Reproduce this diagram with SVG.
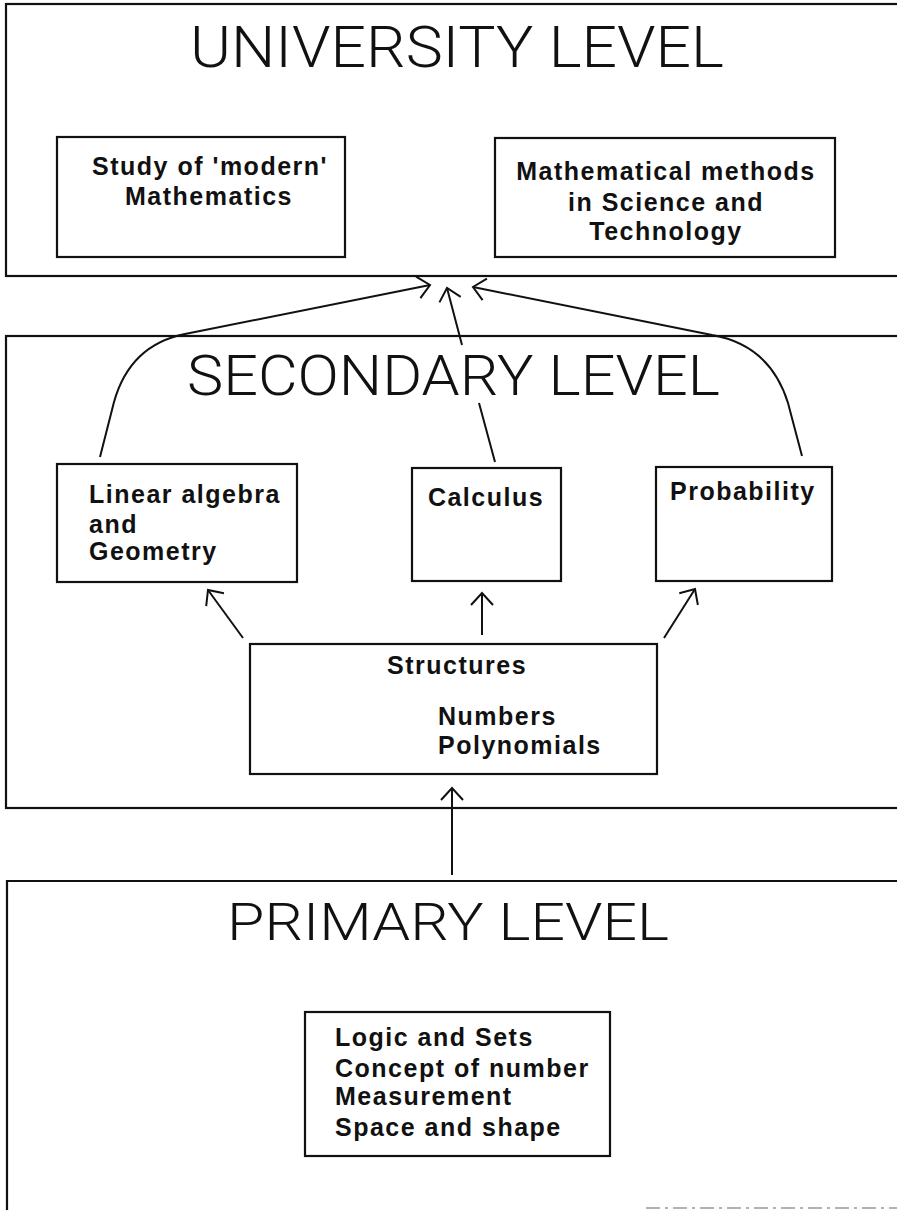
<svg xmlns="http://www.w3.org/2000/svg" width="897" height="1210" viewBox="0 0 897 1210">
<style>
.frame{fill:none;stroke:#111;stroke-width:2.2}
.box{fill:#fff;stroke:#111;stroke-width:2.2}
.title{font-family:Roboto,"Open Sans","Liberation Sans",sans-serif;font-weight:300;fill:#111;text-anchor:middle}
.lbl{font-family:"Liberation Sans",Arial,sans-serif;font-weight:bold;font-size:25px;letter-spacing:1.5px;fill:#111}
.mid{text-anchor:middle}
.conn{fill:none;stroke:#111;stroke-width:2}
</style>
<defs>
<marker id="arr" markerUnits="userSpaceOnUse" markerWidth="30" markerHeight="30" refX="0" refY="0" viewBox="-15 -15 30 30" orient="auto" overflow="visible">
<path d="M-12,-11 L0,0 L-12,11" fill="none" stroke="#111" stroke-width="2"/>
</marker>
</defs>
<rect width="897" height="1210" fill="#fff"/>

<g id="university-level">
<rect class="frame" x="6" y="4" width="900" height="272"/>
<text class="title" x="457" y="67" font-size="58" textLength="534" lengthAdjust="spacingAndGlyphs">UNIVERSITY LEVEL</text>
</g>
<g id="node-modern-mathematics">
<rect class="box" x="57" y="137" width="288" height="120"/>
<text class="lbl mid" x="210" y="175">Study of 'modern'</text>
<text class="lbl mid" x="209" y="205">Mathematics</text>
</g>
<g id="node-math-methods">
<rect class="box" x="495" y="138" width="340" height="119"/>
<text class="lbl mid" x="666" y="180">Mathematical methods</text>
<text class="lbl mid" x="666" y="211">in Science and</text>
<text class="lbl mid" x="666" y="240">Technology</text>
</g>

<g id="secondary-level">
<rect class="frame" x="6" y="336" width="900" height="472"/>
<text class="title" x="453.5" y="395" font-size="56" textLength="533" lengthAdjust="spacingAndGlyphs">SECONDARY LEVEL</text>
</g>
<g id="node-linear-algebra">
<rect class="box" x="57" y="464" width="240" height="118"/>
<text class="lbl" x="89" y="503">Linear algebra</text>
<text class="lbl" x="89" y="533">and</text>
<text class="lbl" x="89" y="560">Geometry</text>
</g>
<g id="node-calculus">
<rect class="box" x="412" y="468" width="149" height="113"/>
<text class="lbl mid" x="486" y="506">Calculus</text>
</g>
<g id="node-probability">
<rect class="box" x="656" y="467" width="176" height="114"/>
<text class="lbl" x="670" y="500">Probability</text>
</g>
<g id="node-structures">
<rect class="box" x="250" y="644" width="407" height="130"/>
<text class="lbl" x="387" y="674">Structures</text>
<text class="lbl" x="438" y="725">Numbers</text>
<text class="lbl" x="438" y="754">Polynomials</text>
</g>

<g id="primary-level">
<path class="frame" d="M900,881 L7,881 L7,1215"/>
<line x1="646" y1="1208" x2="897" y2="1208" stroke="#999" stroke-width="1.5" stroke-dasharray="14 5 3 5"/>
<text class="title" x="448" y="940" font-size="52" textLength="442" lengthAdjust="spacingAndGlyphs">PRIMARY LEVEL</text>
</g>
<g id="node-primary-topics">
<rect class="box" x="305" y="1012" width="305" height="144"/>
<text class="lbl" x="335" y="1046">Logic and Sets</text>
<text class="lbl" x="335" y="1077">Concept of number</text>
<text class="lbl" x="335" y="1105">Measurement</text>
<text class="lbl" x="335" y="1136">Space and shape</text>
</g>

<g id="connectors">
<path class="conn" marker-end="url(#arr)" d="M100,457 L114,402 Q130,345 185,334 L430,285"/>
<path class="conn" marker-end="url(#arr)" d="M495,462 L479,403 M462,345 L447,288"/>
<path class="conn" marker-end="url(#arr)" d="M802,456 L788,403 Q770,345 712,335 L473,287"/>
<path class="conn" marker-end="url(#arr)" d="M243,638 L208,590"/>
<path class="conn" marker-end="url(#arr)" d="M482,635 L482,593"/>
<path class="conn" marker-end="url(#arr)" d="M664,638 L695,589"/>
<path class="conn" marker-end="url(#arr)" d="M452,875 L452,788"/>
</g>
</svg>
